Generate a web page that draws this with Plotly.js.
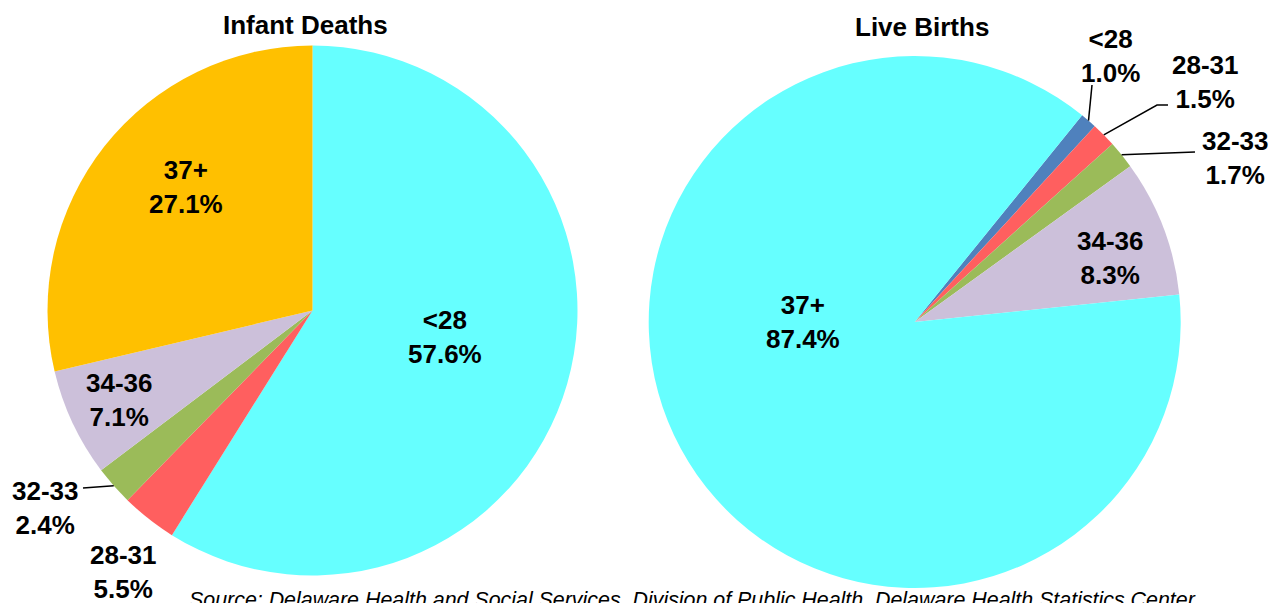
<!DOCTYPE html>
<html>
<head>
<meta charset="utf-8">
<script src="https://cdn.plot.ly/plotly-3.0.1.min.js"></script>
<style>html,body{margin:0;padding:0;background:#fff;}#chart{width:1279px;height:603px;}</style>
</head>
<body>
<div id="chart"></div>
<script>
// ---- data ----
const deathCategories = ['<28', '28-31', '32-33', '34-36', '37+'];
// percentages printed on the labels
const deathLabelPct = [57.6, 5.5, 2.4, 7.1, 27.1];
// slice sizes as drawn in the picture
const deathSliceShares = [58.9, 3.4, 2.4, 6.6, 28.7];
const birthCategories = ['<28', '28-31', '32-33', '34-36', '37+'];
const birthLabelPct = [1.0, 1.5, 1.7, 8.3, 87.4];
const birthSliceShares = [1.0, 1.5, 1.7, 8.3, 87.4];
const deathColors = ['#66FFFF', '#FF5F5F', '#9BBB59', '#CCC0DA', '#FFC000'];
const birthColors = ['#4F81BD', '#FF5F5F', '#9BBB59', '#CCC0DA', '#66FFFF'];
const chartTitles = ['Infant Deaths', 'Live Births'];
const sourceNote = 'Source: Delaware Health and Social Services, Division of Public Health, Delaware Health Statistics Center';

// ---- layout ----
const W = 1279, H = 603;
const FONT = '"Liberation Sans", Arial, sans-serif';
const pies = [
  {cats: deathCategories, vals: deathSliceShares, pct: deathLabelPct, colors: deathColors, rotation: 0,
   domain: {x: [0.03714, 0.45152], y: [0.04561, 0.92454]},
   labelPx: [[445, 337], [123.5, 572], [45, 508], [119, 400], [186, 187.5]],
   leaders: {2: [[83, 488]]},
   titlePx: [305, 25]},
  {cats: birthCategories, vals: birthSliceShares, pct: birthLabelPct, colors: birthColors, rotation: 39,
   domain: {x: [0.50719, 0.92314], y: [0.02488, 0.90713]},
   labelPx: [[1110, 56], [1205, 81.5], [1235.5, 157.5], [1110, 258], [803.5, 321.5]],
   leaders: {0: [[1092, 85]], 1: [[1157, 105], [1168, 105]], 2: [[1195, 152]]},
   titlePx: [922, 27]}
];

const px2x = p => p / W;
const py2y = p => 1 - p / H;

function edgePoint(pie, i) {
  const total = pie.vals.reduce((a, b) => a + b, 0);
  let cum = 0;
  for (let k = 0; k < i; k++) cum += pie.vals[k];
  const mid = (pie.rotation + (cum + pie.vals[i] / 2) / total * 360) * Math.PI / 180;
  const x0 = pie.domain.x[0] * W, x1 = pie.domain.x[1] * W;
  const y0 = (1 - pie.domain.y[1]) * H, y1 = (1 - pie.domain.y[0]) * H;
  const cx = (x0 + x1) / 2, cy = (y0 + y1) / 2;
  const r = Math.min(x1 - x0, y1 - y0) / 2;
  return [cx + r * Math.sin(mid), cy - r * Math.cos(mid)];
}

const traces = [], annotations = [], shapes = [];
pies.forEach((pie, pi) => {
  traces.push({
    type: 'pie', labels: pie.cats, values: pie.vals, sort: false,
    direction: 'clockwise', rotation: pie.rotation, domain: pie.domain,
    marker: {colors: pie.colors, line: {width: 0}},
    textinfo: 'none', hoverinfo: 'label', showlegend: false
  });
  pie.cats.forEach((c, i) => {
    const [lx, ly] = pie.labelPx[i];
    annotations.push({
      xref: 'paper', yref: 'paper', x: px2x(lx), y: py2y(ly),
      xanchor: 'center', yanchor: 'middle', showarrow: false,
      text: c + '<br>' + pie.pct[i].toFixed(1) + '%',
      font: {family: FONT, size: 26, color: '#000', weight: 'bold'}
    });
  });
  Object.keys(pie.leaders).forEach(k => {
    const tip = edgePoint(pie, +k);
    const pts = [tip].concat(pie.leaders[k]);
    const path = pts.map((p, j) => (j ? 'L' : 'M') + px2x(p[0]).toFixed(5) + ',' + py2y(p[1]).toFixed(5)).join(' ');
    shapes.push({type: 'path', xref: 'paper', yref: 'paper', path: path,
      line: {color: '#000', width: 1.5}});
  });
  annotations.push({
    xref: 'paper', yref: 'paper', x: px2x(pie.titlePx[0]), y: py2y(pie.titlePx[1]),
    xanchor: 'center', yanchor: 'middle', showarrow: false,
    text: chartTitles[pi], font: {family: FONT, size: 26, color: '#000', weight: 'bold'}
  });
});
annotations.push({
  xref: 'paper', yref: 'paper', x: px2x(692), y: py2y(600),
  xanchor: 'center', yanchor: 'middle', showarrow: false,
  text: '<i>' + sourceNote + '</i>', font: {family: FONT, size: 21.4, color: '#000'}
});

Plotly.newPlot('chart', traces, {
  width: W, height: H, margin: {l: 0, r: 0, t: 0, b: 0},
  paper_bgcolor: '#fff', plot_bgcolor: '#fff',
  annotations: annotations, shapes: shapes
}, {displayModeBar: false, staticPlot: true});
</script>
</body>
</html>
